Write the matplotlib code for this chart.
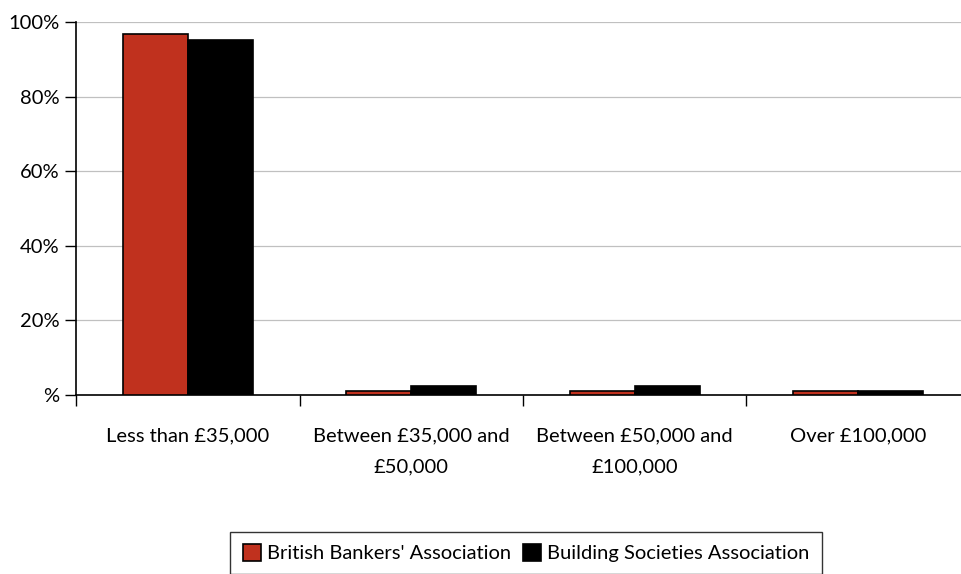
import matplotlib.pyplot as plt
import numpy as np

# Data
categories = ['Less than £35,000', 'Between £35,000 and\n£50,000',
              'Between £50,000 and\n£100,000', 'Over £100,000']
bba = [96.7, 1.1, 1.1, 1.1]   # British Bankers' Association
bsa = [95.1, 2.4, 2.4, 1.2]   # Building Societies Association
yticks = [0, 20, 40, 60, 80, 100]
ytick_labels = ['%', '20%', '40%', '60%', '80%', '100%']

plt.rcParams['font.family'] = ['Lato', 'DejaVu Sans']
fs = 14.5

fig = plt.figure(figsize=(9.62, 5.74), dpi=100)
ax = fig.add_axes([76 / 962, 1 - 395 / 574, 894 / 962, 373 / 574])

x = np.arange(len(categories))
w = 0.29
ax.bar(x - w / 2, bba, w, color='#C0311E', edgecolor='black', linewidth=1.2,
       label="British Bankers' Association", zorder=3)
ax.bar(x + w / 2, bsa, w, color='black', edgecolor='black', linewidth=1.2,
       label='Building Societies Association', zorder=3)

ax.set_xlim(-0.5, len(categories) - 0.5)
ax.set_ylim(0, 100)
ax.set_yticks(yticks)
ax.set_yticklabels(ytick_labels, fontsize=fs)
ax.yaxis.grid(True, color='#c0c0c0', linewidth=0.9, zorder=0)

# category labels between boundary ticks
ax.set_xticks(np.arange(len(categories) + 1) - 0.5)
ax.set_xticklabels([])
ax.set_xticks(x, minor=True)
ax.set_xticklabels(categories, minor=True, fontsize=fs, linespacing=2.05, va='top')
ax.tick_params(axis='x', which='minor', length=0, pad=23)
ax.tick_params(axis='x', which='major', length=8, width=1, direction='out')
ax.tick_params(axis='y', length=8, width=1, direction='out', pad=4)

for s in ['top', 'right']:
    ax.spines[s].set_visible(False)
ax.spines['left'].set_linewidth(1.2)
ax.spines['bottom'].set_linewidth(1.2)

leg = fig.legend(loc='lower center', bbox_to_anchor=(526 / 962, -0.018), ncol=2,
                 fontsize=fs, frameon=True, fancybox=False, edgecolor='black',
                 handlelength=0.9, handleheight=0.9, handletextpad=0.3,
                 columnspacing=0.6, borderpad=0.6)
leg.get_frame().set_linewidth(1.0)

fig.savefig('out.png', dpi=100)
